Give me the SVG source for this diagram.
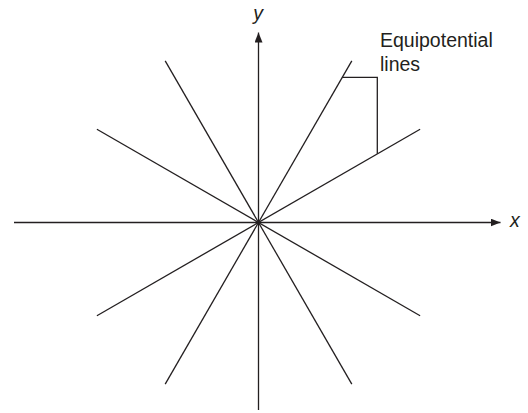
<svg xmlns="http://www.w3.org/2000/svg" width="528" height="413" viewBox="0 0 528 413">
<defs>
<style>
.ln{stroke:#231f20;stroke-width:1.3;fill:none}
.ax{stroke:#231f20;stroke-width:1.3;fill:none}
.lbl{font-family:"Liberation Sans",Arial,sans-serif;font-size:19.5px;fill:#231f20}
.it{font-style:italic}
</style>
<marker id="ah" viewBox="0 0 10 8" refX="10" refY="4" markerWidth="10" markerHeight="8" markerUnits="userSpaceOnUse" orient="auto">
<path d="M0,0 L10,4 L0,8 Z" fill="#231f20"/>
</marker>
</defs>
<rect width="528" height="413" fill="#ffffff"/>
<g id="axes">
<line class="ax" x1="14" y1="222.5" x2="500.5" y2="222.5" marker-end="url(#ah)"/>
<line class="ax" x1="258.5" y1="410" x2="258.5" y2="32.5" marker-end="url(#ah)"/>
</g>
<g id="connectors">
<line class="ln" x1="165.2" y1="60.9" x2="351.8" y2="384.1"/>
<line class="ln" x1="351.8" y1="60.9" x2="165.2" y2="384.1"/>
<line class="ln" x1="96.9" y1="129.2" x2="420.1" y2="315.8"/>
<line class="ln" x1="420.1" y1="129.2" x2="96.9" y2="315.8"/>
<polyline class="ln" points="342.3,77.3 377.3,77.3 377.3,153.8"/>
</g>
<g id="labels">
<text class="lbl it" x="258" y="20" text-anchor="middle">y</text>
<text class="lbl it" x="510" y="227">x</text>
<text class="lbl" x="380" y="47.3">Equipotential</text>
<text class="lbl" x="380" y="70.7">lines</text>
</g>
</svg>
